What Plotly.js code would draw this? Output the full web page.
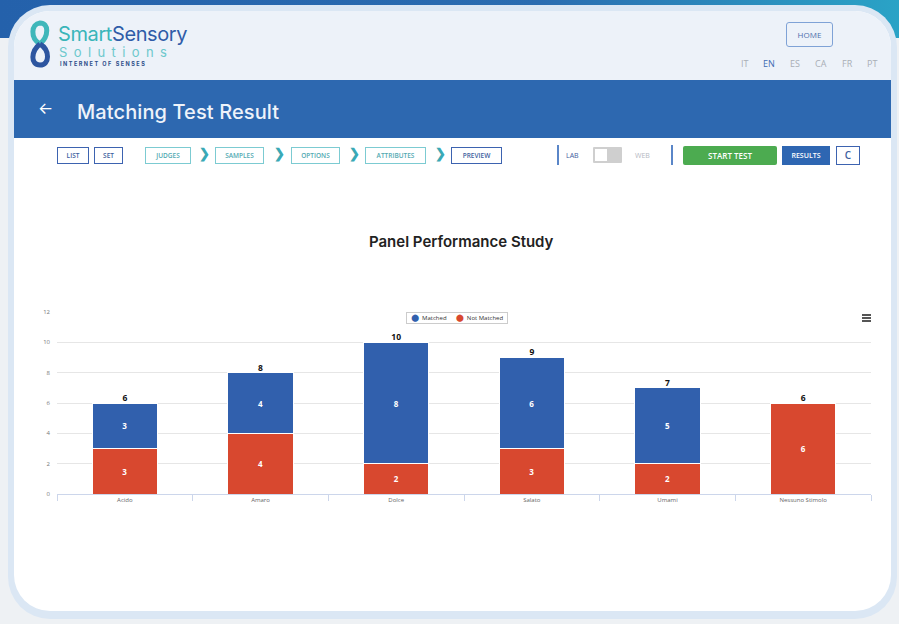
<!DOCTYPE html>
<html>
<head>
<meta charset="utf-8">
<script src="https://cdn.plot.ly/plotly-3.0.1.min.js"></script>
<style>
  html,body{margin:0;padding:0;width:899px;height:624px;overflow:hidden;font-family:Inter,"Open Sans",sans-serif;}
  body{background:#eef1f4;position:relative;}
  .band{position:absolute;left:0;top:0;width:899px;height:38px;background:linear-gradient(90deg,#2461ab 0%,#2a6cb0 60%,#2aa3c6 100%);}
  .frame{position:absolute;left:8px;top:5px;width:889px;height:614px;border-radius:42px;background:#dbe7f4;}
  .card{position:absolute;left:14px;top:11px;width:877px;height:600px;border-radius:36px;background:#ffffff;overflow:hidden;}
  .hdr{position:absolute;left:0;top:0;width:877px;height:69px;background:#edf2f9;}
  .bluebar{position:absolute;left:-1px;top:69px;width:885px;height:58px;background:#2d68b0;}
  .bluebar .arrow{position:absolute;left:25px;top:18px;color:#fff;font-size:16px;}
  .bluebar .ttl{position:absolute;left:64px;top:20px;color:#eef3fa;font-size:20px;font-weight:500;letter-spacing:0.1px;}
  .logo1{position:absolute;left:44px;top:13px;font-size:20px;line-height:21px;letter-spacing:-0.4px;}
  .logo2{position:absolute;left:45px;top:35px;font-size:13px;line-height:13px;color:#6cc8cc;letter-spacing:6.4px;}
  .logo3{position:absolute;left:46px;top:50px;font-size:5.5px;line-height:6px;color:#2f4f8a;font-weight:700;letter-spacing:1.5px;}
  .home{position:absolute;left:772px;top:11px;width:45px;height:23px;border:1.5px solid #7fa2d6;border-radius:3px;color:#4e70ad;font-size:8px;line-height:23px;text-align:center;font-family:"Open Sans",sans-serif;}
  .lang{position:absolute;top:46px;font-size:9px;color:#a9aeb6;font-family:"Open Sans",sans-serif;}
  .btn{position:absolute;top:136px;height:15px;border:1.2px solid #3d63b0;font-size:6.5px;line-height:15px;text-align:center;color:#3d5e9e;font-family:"Open Sans",sans-serif;font-weight:600;box-sizing:content-box;}
  .btn.t{border-color:#7ccbd2;color:#52a9b2;}
  .chev{position:absolute;top:134px;color:#3aa9b5;font-size:13px;font-weight:800;}
  .vl{position:absolute;top:134px;width:2px;height:20px;background:#5a86c8;}
  #chart{position:absolute;left:-14px;top:159px;width:899px;height:350px;}
  .burger{position:absolute;left:848px;top:303px;width:9px;}
  .burger div{height:1.6px;background:#555;margin-bottom:1.6px;}
</style>
</head>
<body>
<div class="band"></div>
<div class="frame"></div>
<div class="card">
  <div class="hdr">
    <svg style="position:absolute;left:13px;top:7px" width="26" height="52" viewBox="0 0 26 52">
      <path d="M13 26 C3 20 4 6 13 5 C22 5 22 18 13 26" fill="none" stroke="#3fb7ba" stroke-width="5"/>
      <path d="M13 26 C23 32 23 47 13 47 C3 47 4 33 13 26" fill="none" stroke="#2d56a0" stroke-width="5"/>
    </svg>
    <div class="logo1"><span style="color:#3ab5b9">Smart</span><span style="color:#2f5ca8">Sensory</span></div>
    <div class="logo2">Solutions</div>
    <div class="logo3">INTERNET OF SENSES</div>
    <div class="home">HOME</div>
    <span class="lang" style="left:727px">IT</span>
    <span class="lang" style="left:749px;color:#3f6db3">EN</span>
    <span class="lang" style="left:776px">ES</span>
    <span class="lang" style="left:801px">CA</span>
    <span class="lang" style="left:828px">FR</span>
    <span class="lang" style="left:853px">PT</span>
  </div>
  <div class="bluebar"><span class="arrow">&#8592;</span><span class="ttl">Matching Test Result</span></div>

  <div class="btn" style="left:43px;width:30px">LIST</div>
  <div class="btn" style="left:80px;width:27px">SET</div>
  <div class="btn t" style="left:131px;width:44px">JUDGES</div>
  <span class="chev" style="left:185px">&#10095;</span>
  <div class="btn t" style="left:201px;width:47px">SAMPLES</div>
  <span class="chev" style="left:260px">&#10095;</span>
  <div class="btn t" style="left:277px;width:47px">OPTIONS</div>
  <span class="chev" style="left:335px">&#10095;</span>
  <div class="btn t" style="left:351px;width:59px">ATTRIBUTES</div>
  <span class="chev" style="left:421px">&#10095;</span>
  <div class="btn" style="left:437px;width:49px">PREVIEW</div>

  <div class="vl" style="left:543px"></div>
  <span style="position:absolute;left:552px;top:140px;font-size:7px;color:#3d5e9e;font-family:'Open Sans'">LAB</span>
  <div style="position:absolute;left:579px;top:136px;width:29px;height:16px;background:#cfcfcf;border-radius:1px"><div style="position:absolute;left:2px;top:2px;width:12px;height:12px;background:#fff"></div></div>
  <span style="position:absolute;left:621px;top:140px;font-size:7px;color:#b4b8bf;font-family:'Open Sans'">WEB</span>
  <div class="vl" style="left:657px"></div>
  <div style="position:absolute;left:669px;top:135px;width:94px;height:19px;background:#4cab50;border-radius:2px;color:#fff;font-size:8px;line-height:19px;text-align:center;font-family:'Open Sans';font-weight:600">START TEST</div>
  <div style="position:absolute;left:768px;top:135px;width:48px;height:19px;background:#2e66b2;color:#fff;font-size:7px;line-height:19px;text-align:center;font-family:'Open Sans';font-weight:600">RESULTS</div>
  <div class="btn" style="left:822px;top:135px;width:22px;height:17px;line-height:17px;font-size:10px;border-width:1.5px">C</div>

  <div id="chart"></div>
  <div class="burger"><div></div><div></div><div></div></div>
</div>

<script>
// ---- data ----
const categories = ["Acido", "Amaro", "Dolce", "Salato", "Umami", "Nessuno Stimolo"];
const matched    = [3, 4, 8, 6, 5, 0];
const notMatched = [3, 4, 2, 3, 2, 6];
const seriesNames = ["Matched", "Not Matched"];
const chartTitle = "Panel Performance Study";
const yTicks = [0, 2, 4, 6, 8, 10, 12];

const blue = "#3160ad", red = "#d8482f";
const totals = categories.map((c, i) => matched[i] + notMatched[i]);
const lbl = arr => arr.map(v => v > 0 ? String(v) : "");

const barCommon = {
  type: "bar", textposition: "inside", insidetextanchor: "middle", textangle: 0,
  constraintext: "none", showlegend: false, hoverinfo: "x+y",
  insidetextfont: {color: "#ffffff", size: 8, family: "Open Sans, sans-serif", weight: 700}
};

const traces = [
  Object.assign({}, barCommon, {name: seriesNames[1], x: categories, y: notMatched, text: lbl(notMatched),
    marker: {color: red, line: {color: "#ffffff", width: 1}}}),
  Object.assign({}, barCommon, {name: seriesNames[0], x: categories, y: matched, text: lbl(matched),
    marker: {color: blue, line: {color: "#ffffff", width: 1}}}),
  {type: "scatter", mode: "text", x: categories, y: totals, text: totals.map(String),
    textposition: "top center", showlegend: false, hoverinfo: "skip",
    textfont: {color: "#111", size: 8.5, family: "Open Sans, sans-serif", weight: 700}}
];

// compact legend box (series names + colours)
const sp = "&nbsp;";
const dot = c => '<span style="color:' + c + ';font-family:DejaVu Sans;font-size:7px">\u2B24</span>';
const legendText = sp + sp + dot(blue) + sp + sp + seriesNames[0] +
  sp.repeat(6) + dot(red) + sp + sp + seriesNames[1] + sp + sp;

const layout = {
  width: 899, height: 350,
  margin: {l: 57, r: 28, t: 142, b: 26},
  paper_bgcolor: "rgba(0,0,0,0)", plot_bgcolor: "rgba(0,0,0,0)",
  barmode: "stack", bargap: 0.52,
  font: {family: "Open Sans, sans-serif", color: "#666"},
  title: {text: chartTitle, xref: "container", x: 0.513, xanchor: "center",
          yref: "container", y: 0.794, yanchor: "middle",
          font: {family: "Inter, Open Sans, sans-serif", size: 15, color: "#222", weight: 600}},
  xaxis: {type: "category", showgrid: false, showline: true, linecolor: "#ccd6eb", linewidth: 1,
          tickson: "boundaries", ticks: "outside", ticklen: 6, tickcolor: "#ccd6eb",
          tickfont: {size: 6, color: "#666"}, fixedrange: true},
  yaxis: {range: [0, 12], tickvals: yTicks, showgrid: true, gridcolor: "#e6e6e6",
          zeroline: false, showline: false, tickfont: {size: 6, color: "#777"},
          ticklabelstandoff: 6, fixedrange: true},
  showlegend: false,
  annotations: [{
    xref: "paper", yref: "paper", x: 0.491, y: 1.0, xanchor: "center", yanchor: "top",
    text: legendText, showarrow: false, align: "center",
    font: {size: 6, color: "#333", family: "Open Sans, sans-serif"},
    bgcolor: "#ffffff", bordercolor: "#cccccc", borderwidth: 1, borderpad: 1
  }]
};

Plotly.newPlot("chart", traces, layout, {displayModeBar: false, staticPlot: true});
</script>
</body>
</html>
